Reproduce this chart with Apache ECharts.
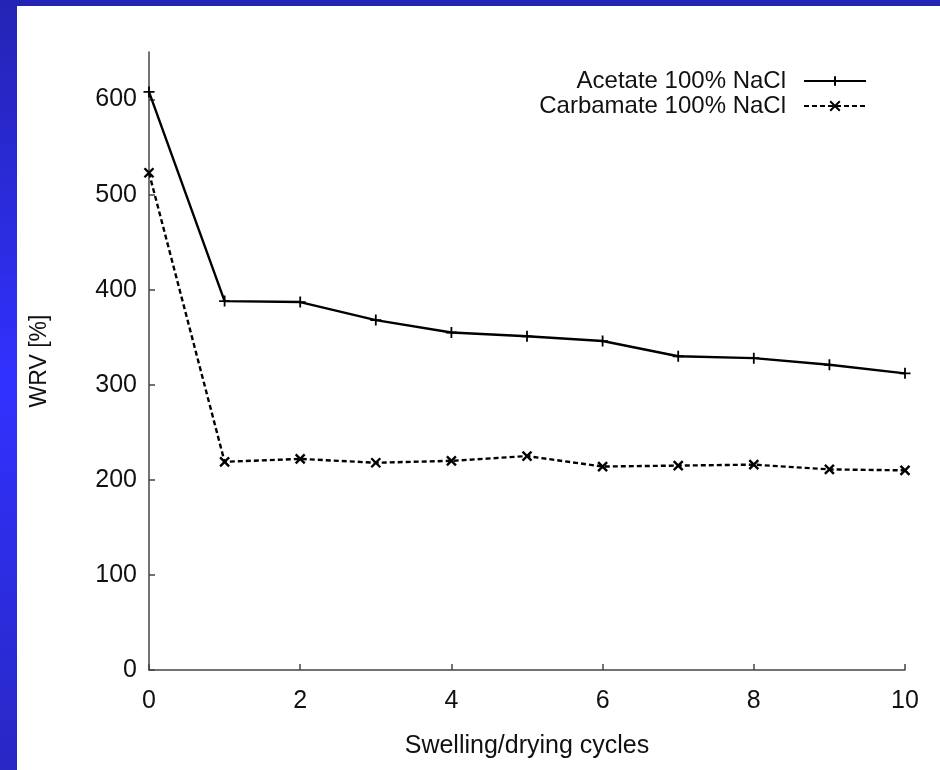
<!DOCTYPE html>
<html>
<head>
<meta charset="utf-8">
<script src="https://cdn.jsdelivr.net/npm/echarts@6/dist/echarts.min.js"></script>
<style>
html,body{margin:0;padding:0;background:#fff;}
#c{width:940px;height:770px;}
</style>
</head>
<body>
<div id="c"></div>
<script>
var cycles = [0, 1, 2, 3, 4, 5, 6, 7, 8, 9, 10];
var acetate = [608, 388, 387, 368, 355, 351, 346, 330, 328, 321, 312];
var carbamate = [523, 219, 222, 218, 220, 225, 214, 215, 216, 211, 210];
var yTicks = [0, 100, 200, 300, 400, 500, 600];
var xTicks = [0, 2, 4, 6, 8, 10];
var seriesNames = ['Acetate 100% NaCl', 'Carbamate 100% NaCl'];

function pairs(vals) { return cycles.map(function (c, i) { return [c, vals[i]]; }); }

var FONT = '"Liberation Sans", Arial, Helvetica, sans-serif';
var chart = echarts.init(document.getElementById('c'));
chart.setOption({
  backgroundColor: '#ffffff',
  animation: false,
  graphic: [
    { type: 'rect', left: 0, top: 0, shape: { width: 940, height: 6 }, style: { fill: '#2323b6' }, silent: true },
    { type: 'rect', left: 0, top: 0, shape: { width: 17, height: 770 },
      style: { fill: new echarts.graphic.LinearGradient(0, 0, 0, 1, [
        { offset: 0, color: '#2424b4' }, { offset: 0.5, color: '#3131ff' }, { offset: 1, color: '#2828c4' }]) },
      silent: true }
  ],
  grid: { left: 149, right: 35, top: 52, bottom: 100, containLabel: false },
  legend: {
    orient: 'vertical', right: 68, top: 64, align: 'right',
    itemWidth: 62, itemHeight: 12, itemGap: 1,
    textStyle: { fontFamily: FONT, fontSize: 24, lineHeight: 20, color: '#111', padding: [0, 13, 0, 0] },
    data: seriesNames
  },
  xAxis: {
    type: 'value', min: 0, max: 10, interval: 2,
    name: 'Swelling/drying cycles', nameLocation: 'middle', nameGap: 64,
    nameTextStyle: { fontFamily: FONT, fontSize: 25, color: '#111' },
    axisLine: { lineStyle: { color: '#444', width: 1.5 } },
    axisTick: { inside: true, length: 6, lineStyle: { color: '#444', width: 1.5 }, customValues: xTicks },
    axisLabel: { fontFamily: FONT, fontSize: 25, color: '#111', margin: 19, customValues: xTicks },
    splitLine: { show: false }
  },
  yAxis: {
    type: 'value', min: 0, max: 650, interval: 100,
    name: 'WRV [%]', nameLocation: 'middle', nameGap: 98, nameRotate: 90,
    nameTextStyle: { fontFamily: FONT, fontSize: 23, color: '#111' },
    axisLine: { show: true, lineStyle: { color: '#444', width: 1.5 } },
    axisTick: { show: true, inside: true, length: 6, lineStyle: { color: '#444', width: 1.5 }, customValues: yTicks },
    axisLabel: { fontFamily: FONT, fontSize: 25, color: '#111', margin: 12, customValues: yTicks },
    splitLine: { show: false }
  },
  series: [
    {
      name: seriesNames[0], type: 'line', data: pairs(acetate),
      symbol: 'path://M0,-1L0,1M-1,0L1,0', symbolSize: 11,
      lineStyle: { color: '#000', width: 2.4 },
      itemStyle: { color: '#000', borderColor: '#000', borderWidth: 1.8 }
    },
    {
      name: seriesNames[1], type: 'line', data: pairs(carbamate),
      symbol: 'path://M-1,-1L1,1M-1,1L1,-1', symbolSize: 9,
      lineStyle: { color: '#000', width: 2.4, type: [5, 3] },
      itemStyle: { color: '#000', borderColor: '#000', borderWidth: 2.4 }
    }
  ]
});
</script>
</body>
</html>
